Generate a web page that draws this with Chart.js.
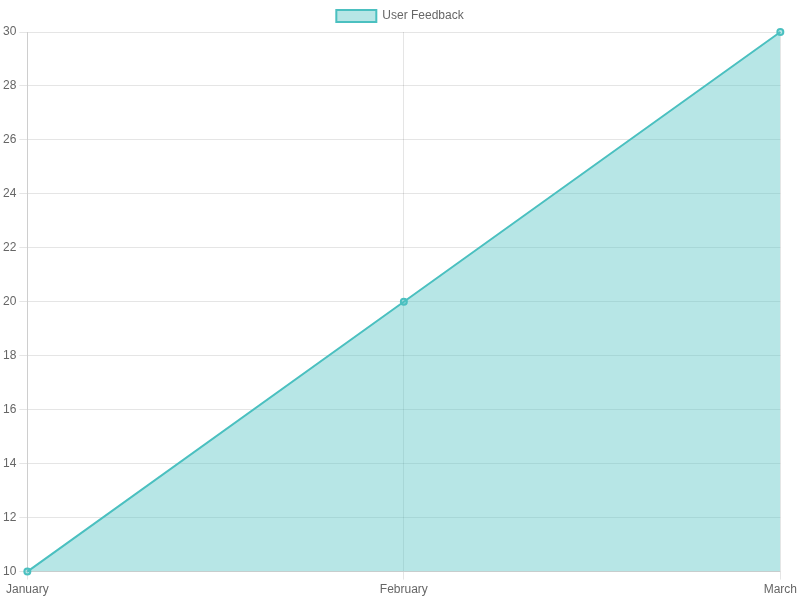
<!DOCTYPE html>
<html>
<head>
<meta charset="utf-8">
<script src="https://cdn.jsdelivr.net/npm/chart.js@4"></script>
<style>
  html, body { margin: 0; padding: 0; background: #fff; }
  #wrap { width: 800px; height: 600px; }
</style>
</head>
<body>
<div id="wrap"><canvas id="feedbackChart"></canvas></div>
<script>
// dados do grafico
var meses = ['January', 'February', 'March'];
var feedback = [10, 20, 30];

var ctx = document.getElementById('feedbackChart').getContext('2d');
var feedbackChart = new Chart(ctx, {
  type: 'line',
  data: {
    labels: meses,
    datasets: [{
      label: 'User Feedback',
      data: feedback,
      fill: true,
      backgroundColor: 'rgba(75, 192, 192, 0.4)',
      borderColor: 'rgba(75, 192, 192, 1)',
      borderWidth: 2,
      tension: 0
    }]
  },
  options: {
    responsive: true,
    maintainAspectRatio: false,
    animation: false,
    scales: {
      y: {
        ticks: { stepSize: 2 }
      }
    }
  }
});
</script>
</body>
</html>
